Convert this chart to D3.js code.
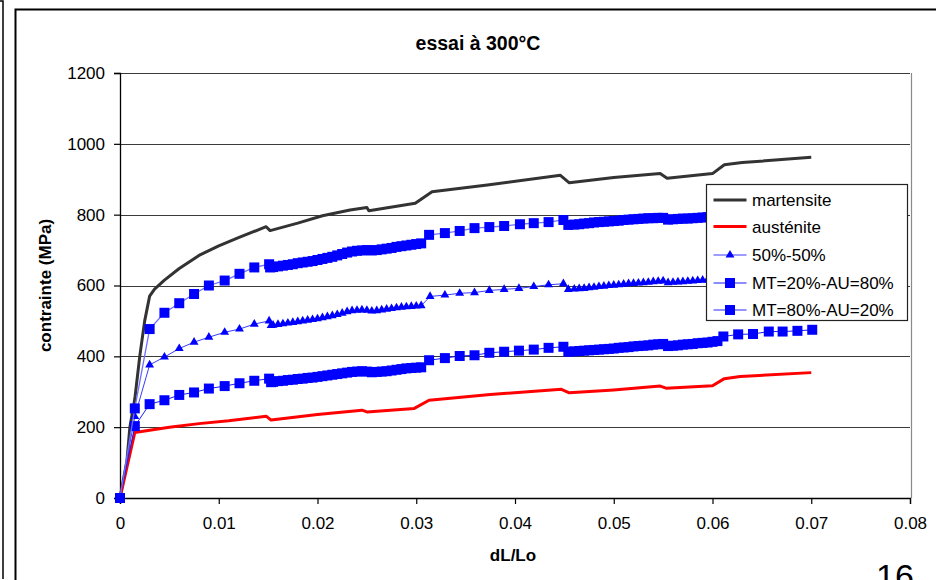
<!DOCTYPE html>
<html>
<head>
<meta charset="utf-8">
<script src="https://cdn.jsdelivr.net/npm/d3@7"></script>
<style>
  html, body { margin: 0; padding: 0; background: #fff; }
  svg { display: block; }
  text { font-family: "Liberation Sans", Arial, sans-serif; }
</style>
</head>
<body>
<svg id="chart" width="936" height="580"></svg>
<script>
// Tensile test curves at 300 °C: stress (MPa) against strain dL/Lo
const xTicks = [0, 0.01, 0.02, 0.03, 0.04, 0.05, 0.06, 0.07, 0.08];
const yTicks = [0, 200, 400, 600, 800, 1000, 1200];

const martensite = [
  [0, 0], [0.0007, 105], [0.001, 200], [0.0015, 280], [0.002, 400], [0.0025, 500],
  [0.003, 570], [0.0035, 590], [0.0045, 615], [0.006, 648], [0.008, 685], [0.01, 712],
  [0.012, 735], [0.0148, 766], [0.0152, 755], [0.018, 776], [0.0205, 797], [0.0233, 813],
  [0.025, 820], [0.0252, 811], [0.0299, 832], [0.0316, 865], [0.0372, 884], [0.0446, 911],
  [0.0455, 890], [0.05, 905], [0.0547, 916], [0.0554, 903], [0.06, 916], [0.0612, 941],
  [0.063, 947], [0.07, 962]
];

const austenite = [
  [0, 0], [0.0015, 185], [0.005, 200], [0.008, 210], [0.011, 218], [0.0148, 231],
  [0.0153, 220], [0.02, 236], [0.0245, 248], [0.025, 243], [0.0298, 253], [0.0313, 276],
  [0.0375, 292], [0.0447, 307], [0.0455, 297], [0.05, 305], [0.0547, 316], [0.0553, 310],
  [0.06, 317], [0.0612, 337], [0.0628, 343], [0.07, 354]
];

const mix5050 = [
  [0, 0], [0.0015, 230], [0.003, 376], [0.0045, 398], [0.006, 422], [0.0075, 440],
  [0.009, 454], [0.0106, 468], [0.0121, 477], [0.0136, 491], [0.0151, 500],
  [0.0153, 487], [0.0155, 488], [0.016, 490], [0.0165, 492], [0.017, 494], [0.0175, 496],
  [0.018, 498], [0.0185, 500], [0.019, 502], [0.0195, 504], [0.02, 506], [0.0205, 509],
  [0.021, 512], [0.0215, 515], [0.022, 518], [0.0225, 522], [0.023, 526], [0.0235, 529],
  [0.024, 530], [0.0245, 531], [0.025, 530], [0.0255, 528], [0.026, 529], [0.0265, 531],
  [0.027, 533], [0.0275, 535], [0.028, 537], [0.0285, 539], [0.029, 540], [0.0295, 541],
  [0.03, 542], [0.0305, 543],
  [0.0314, 569], [0.0329, 573], [0.0344, 578], [0.0359, 580], [0.0374, 586], [0.0389, 589],
  [0.0404, 592], [0.0419, 597], [0.0434, 602], [0.0449, 605],
  [0.0454, 589], [0.046, 590], [0.0465, 591], [0.047, 592], [0.0475, 594], [0.048, 595],
  [0.0485, 597], [0.049, 598], [0.0495, 600], [0.05, 601], [0.0505, 602], [0.051, 604],
  [0.0515, 605], [0.052, 606], [0.0525, 607], [0.053, 608], [0.0535, 609], [0.054, 611],
  [0.0545, 612], [0.055, 613], [0.0555, 608], [0.056, 609], [0.0565, 610], [0.057, 611],
  [0.0575, 612], [0.058, 613], [0.0585, 614], [0.059, 615], [0.0595, 616], [0.06, 617],
  [0.0611, 640], [0.0626, 644], [0.0641, 647], [0.0656, 649], [0.0671, 651], [0.0686, 653],
  [0.0701, 655]
];

const mt20au80 = [
  [0, 0], [0.0015, 203], [0.003, 265], [0.0045, 276], [0.006, 291], [0.0075, 298],
  [0.009, 309], [0.0106, 316], [0.0121, 324], [0.0136, 331], [0.0151, 337],
  [0.0153, 327], [0.0155, 328], [0.016, 330], [0.0165, 331], [0.017, 333], [0.0175, 334],
  [0.018, 336], [0.0185, 337], [0.019, 339], [0.0195, 340], [0.02, 342], [0.0205, 344],
  [0.021, 346], [0.0215, 348], [0.022, 350], [0.0225, 352], [0.023, 354], [0.0235, 356],
  [0.024, 357], [0.0245, 358], [0.025, 357], [0.0255, 355], [0.026, 356], [0.0265, 357],
  [0.027, 358], [0.0275, 360], [0.028, 362], [0.0285, 364], [0.029, 366], [0.0295, 367],
  [0.03, 368], [0.0305, 369],
  [0.0313, 389], [0.0329, 395], [0.0344, 401], [0.0359, 403], [0.0374, 410], [0.0389, 413],
  [0.0404, 416], [0.0419, 419], [0.0434, 424], [0.0449, 427],
  [0.0454, 413], [0.046, 414], [0.0465, 415], [0.047, 416], [0.0475, 417], [0.048, 418],
  [0.0485, 419], [0.049, 420], [0.0495, 421], [0.05, 422], [0.0505, 424], [0.051, 425],
  [0.0515, 426], [0.052, 428], [0.0525, 429], [0.053, 430], [0.0535, 431], [0.054, 433],
  [0.0545, 434], [0.055, 435], [0.0555, 429], [0.056, 430], [0.0565, 431], [0.057, 433],
  [0.0575, 434], [0.058, 435], [0.0585, 437], [0.059, 438], [0.0595, 439], [0.06, 441],
  [0.0605, 443],
  [0.0611, 456], [0.0626, 462], [0.0641, 463], [0.0657, 470], [0.0671, 470], [0.0686, 472],
  [0.0701, 475]
];

const mt80au20 = [
  [0, 0], [0.0015, 253], [0.003, 477], [0.0045, 523], [0.006, 550], [0.0075, 576],
  [0.009, 600], [0.0106, 614], [0.0121, 633], [0.0136, 651], [0.0151, 660],
  [0.0152, 651], [0.0155, 652], [0.016, 654], [0.0165, 656], [0.017, 658], [0.0175, 660],
  [0.018, 663], [0.0185, 665], [0.019, 667], [0.0195, 669], [0.02, 672], [0.0205, 675],
  [0.021, 678], [0.0215, 681], [0.022, 685], [0.0225, 689], [0.023, 693], [0.0235, 696],
  [0.024, 698], [0.0245, 699], [0.025, 700], [0.0255, 699], [0.026, 700], [0.0265, 702],
  [0.027, 704], [0.0275, 706], [0.028, 709], [0.0285, 711], [0.029, 713], [0.0295, 715],
  [0.03, 717], [0.0305, 719],
  [0.0313, 743], [0.0329, 748], [0.0344, 754], [0.0359, 762], [0.0374, 765], [0.0389, 768],
  [0.0405, 773], [0.0419, 776], [0.0434, 779], [0.0449, 785],
  [0.0454, 771], [0.046, 772], [0.0465, 773], [0.047, 775], [0.0475, 776], [0.048, 778],
  [0.0485, 779], [0.049, 780], [0.0495, 781], [0.05, 782], [0.0505, 783], [0.051, 785],
  [0.0515, 786], [0.052, 787], [0.0525, 788], [0.053, 789], [0.0535, 790], [0.054, 790],
  [0.0545, 791], [0.055, 791], [0.0555, 786], [0.056, 787], [0.0565, 788], [0.057, 789],
  [0.0575, 789], [0.058, 790], [0.0585, 791], [0.059, 792], [0.0595, 793], [0.06, 794],
  [0.0611, 815], [0.0626, 818], [0.0641, 820], [0.0657, 822], [0.0671, 824], [0.0686, 826],
  [0.0701, 828]
];

const series = [
  { name: "martensite", data: martensite, color: "#333333", width: 3, marker: null },
  { name: "austénite", data: austenite, color: "#ff0000", width: 3, marker: null },
  { name: "50%-50%", data: mix5050, color: "#3a3aff", width: 1, marker: "triangle" },
  { name: "MT=20%-AU=80%", data: mt20au80, color: "#1a1aff", width: 1, marker: "square" },
  { name: "MT=80%-AU=20%", data: mt80au20, color: "#6f6fff", width: 1.3, marker: "square" }
];

const svg = d3.select("#chart");

// frames around the chart
svg.append("path").attr("d", "M0,1H3V579").attr("fill", "none").attr("stroke", "#000").attr("stroke-width", 1.5);
svg.append("rect").attr("x", 15.5).attr("y", 9.5).attr("width", 960).attr("height", 600)
  .attr("fill", "#fff").attr("stroke", "#000").attr("stroke-width", 2);

const x = d3.scaleLinear().domain([0, 0.08]).range([120, 910]);
const y = d3.scaleLinear().domain([0, 1200]).range([498, 73]);

// gridlines
svg.append("g").selectAll("line").data(yTicks.filter(d => d > 0)).join("line")
  .attr("x1", x(0)).attr("x2", x(0.08))
  .attr("y1", d => Math.round(y(d)) + 0.5).attr("y2", d => Math.round(y(d)) + 0.5)
  .attr("stroke", "#3a3a3a").attr("stroke-width", 1.2);
// plot area right edge
svg.append("line").attr("x1", x(0.08) + 1.5).attr("x2", x(0.08) + 1.5)
  .attr("y1", y(1200)).attr("y2", y(0)).attr("stroke", "#8a8a8a").attr("stroke-width", 1.2);

// axes
const yAxis = d3.axisLeft(y).tickValues(yTicks).tickSize(6).tickPadding(9).tickFormat(d3.format("d"));
const xAxis = d3.axisBottom(x).tickValues(xTicks).tickSize(6).tickPadding(13)
  .tickFormat(d => d === 0 ? "0" : d3.format(".2f")(d));

const gy = svg.append("g").attr("transform", `translate(${x(0)},0)`).call(yAxis);
const gx = svg.append("g").attr("transform", `translate(0,${y(0)})`).call(xAxis);
[gy, gx].forEach(g => {
  g.select(".domain").attr("stroke", "#000").attr("stroke-width", 1.3);
  g.selectAll(".tick line").attr("stroke", "#000").attr("stroke-width", 1.2);
  g.selectAll(".tick text").attr("fill", "#000").style("font-size", "17px")
    .style("font-family", "'Liberation Sans', Arial, sans-serif");
});

// series
const line = d3.line().x(d => x(d[0])).y(d => y(d[1]));
const sq = d3.symbol().type(d3.symbolSquare).size(100);
const tri = d3.symbol().type(d3.symbolTriangle).size(34);

series.forEach(s => {
  const g = svg.append("g");
  g.append("path").datum(s.data).attr("d", line)
    .attr("fill", "none").attr("stroke", s.color).attr("stroke-width", s.width)
    .attr("stroke-linejoin", "round");
  if (s.marker) {
    g.selectAll("path.m").data(s.data).join("path").attr("class", "m")
      .attr("d", s.marker === "square" ? sq : tri)
      .attr("transform", d => `translate(${x(d[0])},${y(d[1])})`)
      .attr("fill", "#0000ff");
  }
});

// legend
const legend = svg.append("g").attr("transform", "translate(706.5,184.5)");
legend.append("rect").attr("width", 201).attr("height", 136)
  .attr("fill", "#fff").attr("stroke", "#222").attr("stroke-width", 1.2);
const rowY = [15.5, 42, 70.5, 98.5, 125.5];
series.forEach((s, i) => {
  const r = legend.append("g").attr("transform", `translate(0,${rowY[i]})`);
  r.append("line").attr("x1", 7).attr("x2", 40).attr("y1", 0).attr("y2", 0)
    .attr("stroke", s.color).attr("stroke-width", s.width);
  if (s.marker) {
    r.append("path").attr("d", s.marker === "square" ? sq : tri)
      .attr("transform", "translate(23.5,0)").attr("fill", "#0000ff");
  }
  r.append("text").attr("x", 45.5).attr("y", 6).style("font-size", "17px").text(s.name);
});

// titles
svg.append("text").attr("x", 478).attr("y", 50).attr("text-anchor", "middle")
  .style("font-size", "19.5px").style("font-weight", "bold").text("essai à 300°C");
svg.append("text").attr("transform", `translate(51,${(y(0) + y(1200)) / 2}) rotate(-90)`)
  .attr("text-anchor", "middle").style("font-size", "17px").style("font-weight", "bold")
  .text("contrainte (MPa)");
svg.append("text").attr("x", 513).attr("y", 561).attr("text-anchor", "middle")
  .style("font-size", "17px").style("font-weight", "bold").text("dL/Lo");

// slide page number, running off the bottom edge of the slide
svg.append("text").attr("x", 876).attr("y", 588).style("font-size", "34px").text("16");
</script>
</body>
</html>
